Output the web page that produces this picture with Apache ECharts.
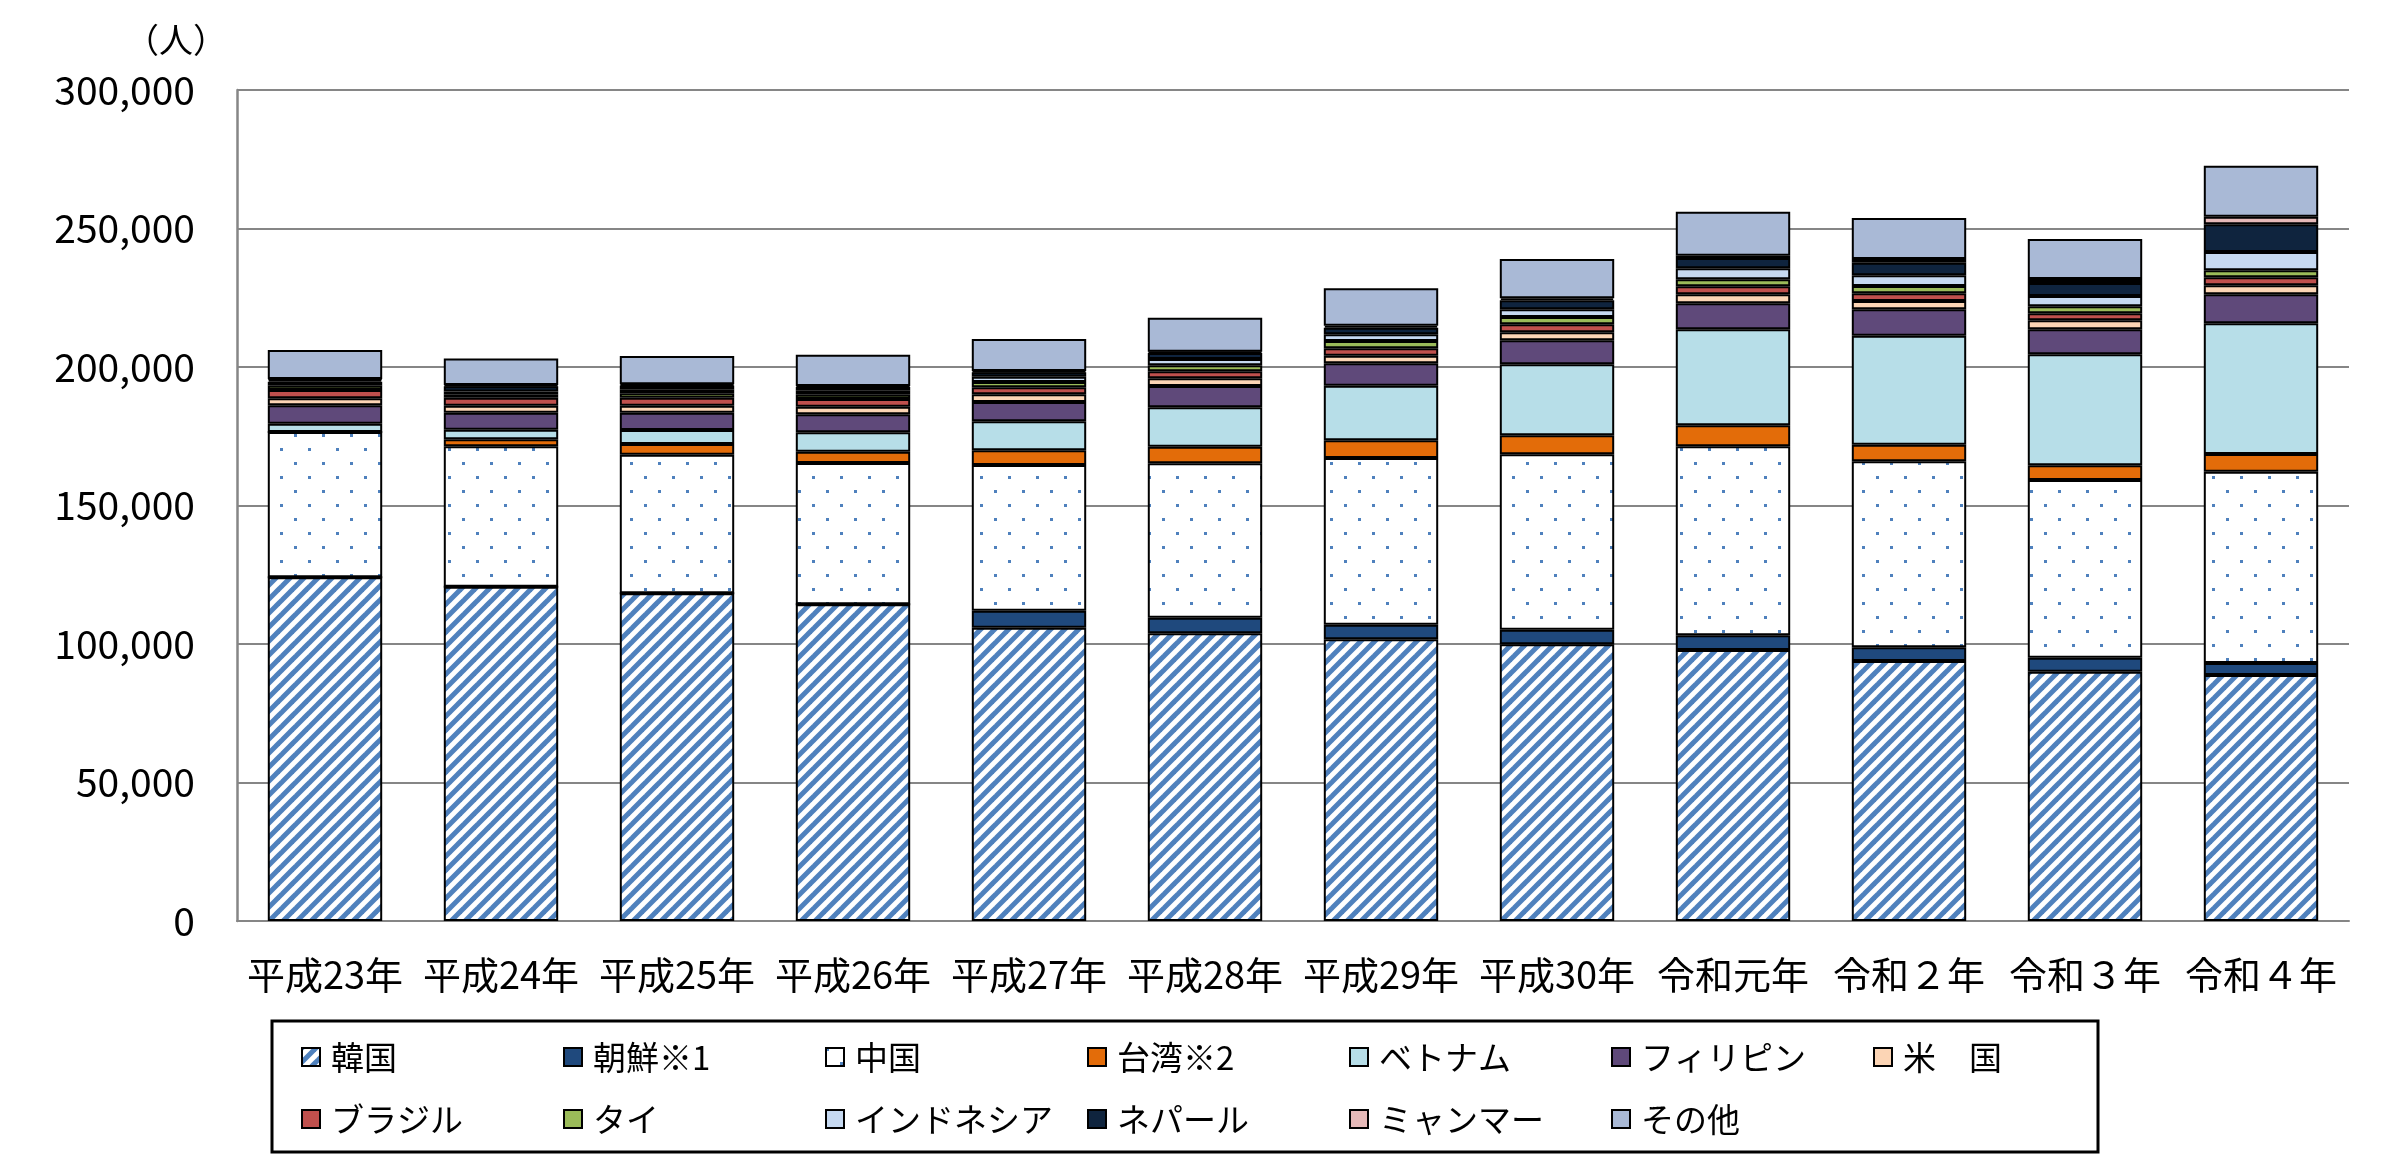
<!DOCTYPE html>
<html>
<head>
<meta charset="utf-8">
<script src="https://cdn.jsdelivr.net/npm/echarts@6/dist/echarts.min.js"></script>
<style>
html,body{margin:0;padding:0;background:#fff;}
#chart{width:2401px;height:1172px;}
</style>
</head>
<body>
<div id="chart"></div>
<script>
// ---- data (people) ----
const categories = ['平成23年','平成24年','平成25年','平成26年','平成27年','平成28年','平成29年','平成30年','令和元年','令和２年','令和３年','令和４年'];
const seriesNames = ['韓国','朝鮮※1','中国','台湾※2','ベトナム','フィリピン','米　国','ブラジル','タイ','インドネシア','ネパール','ミャンマー','その他'];
const korea      = [124080,120680,118300,114330,105880,103860,101690, 99890, 97830, 93860, 90000, 88810];
const chosen     = [     0,     0,     0,     0,  6140,  5630,  5270,  5270,  5300,  4950,  5050,  4330];
const china      = [ 52450, 50680, 50030, 51010, 52600, 55740, 60180, 63320, 68230, 67150, 64150, 69060];
const taiwan     = [     0,  2530,  3860,  4080,  5300,  5990,  6390,  6860,  7580,  5990,  5300,  6390];
const vietnam    = [  3000,  3470,  5050,  7000, 10470, 14220, 19710, 25630, 34660, 39350, 40070, 47180];
const philippines= [  6640,  6140,  6250,  6500,  6970,  7690,  8090,  8660,  9390,  9530,  9030, 10470];
const usa        = [  2530,  2530,  2530,  2740,  2780,  2780,  2740,  2890,  3250,  3000,  3250,  3250];
const brazil     = [  3000,  2900,  2890,  2780,  2530,  2530,  2670,  2890,  2890,  2780,  2530,  2890];
const thailand   = [  1550,  1230,  1590,  1550,  1910,  2170,  2640,  2640,  2530,  2640,  2530,  2530];
const indonesia  = [  1440,  1000,  1440,  1440,  1910,  2270,  2420,  2780,  3970,  3860,  3720,  6610];
const nepal      = [   700,  1900,  1400,  1340,  1590,  2170,  2380,  3250,  3720,  4550,  4690, 10000];
const myanmar    = [   300,   400,   400,   360,   470,   470,   720,   720,   830,  1340,  1440,  2740];
const others     = [ 10470,  9640, 10220, 11300, 11550, 12270, 13500, 14190, 15880, 14800, 14440, 18410];
const yTicks = { min: 0, max: 300000, interval: 50000 };
const unitLabel = '（人）';

// ---- patterns ----
function hatchPattern() {
  const s = 14, c = document.createElement('canvas');
  c.width = s; c.height = s;
  const g = c.getContext('2d');
  g.fillStyle = '#ffffff'; g.fillRect(0, 0, s, s);
  g.strokeStyle = '#4F81BD'; g.lineWidth = 5;
  for (const k of [-s, 0, s]) {
    g.beginPath(); g.moveTo(k - 2, s + 2); g.lineTo(k + s + 2, -2); g.stroke();
  }
  return c;
}
function dotPattern() {
  const s = 28, c = document.createElement('canvas');
  c.width = s; c.height = s;
  const g = c.getContext('2d');
  g.fillStyle = '#ffffff'; g.fillRect(0, 0, s, s);
  g.fillStyle = '#4F81BD';
  g.fillRect(0, 0, 3, 3);
  g.fillRect(14, 14, 3, 3);
  return c;
}
const fills = [
  { image: hatchPattern(), repeat: 'repeat' },
  '#1F497D',
  { image: dotPattern(), repeat: 'repeat' },
  '#E36C09',
  '#B7DEE8',
  '#5F497A',
  '#FCD5B5',
  '#C0504D',
  '#9BBB59',
  '#C6D9F1',
  '#0F243E',
  '#E6B9B8',
  '#A9B9D6'
];
const values = [korea, chosen, china, taiwan, vietnam, philippines, usa, brazil, thailand, indonesia, nepal, myanmar, others];

const FONT = '"Noto Sans CJK JP", "Noto Sans", sans-serif';

const chart = echarts.init(document.getElementById('chart'), null, { renderer: 'canvas' });
chart.setOption({
  backgroundColor: '#ffffff',
  animation: false,
  grid: { left: 237, right: 52, top: 90, bottom: 251, containLabel: false },
  xAxis: {
    type: 'category',
    data: categories,
    axisLine: { show: true, lineStyle: { color: '#868686', width: 2 } },
    axisTick: { show: false },
    axisLabel: { interval: 0, color: '#000', fontSize: 38, fontFamily: FONT, margin: 35 }
  },
  yAxis: {
    type: 'value',
    min: yTicks.min, max: yTicks.max, interval: yTicks.interval,
    axisLine: { show: true, lineStyle: { color: '#868686', width: 2.5 } },
    axisTick: { show: false },
    splitLine: { show: true, lineStyle: { color: '#868686', width: 2 } },
    axisLabel: {
      color: '#000', fontSize: 39, fontFamily: FONT, margin: 42,
      formatter: v => v.toLocaleString('en-US')
    }
  },
  legend: {
    data: seriesNames,
    left: 301, top: 1036, width: 1850,
    orient: 'horizontal',
    icon: 'rect',
    itemWidth: 18, itemHeight: 18,
    itemGap: 20,
    padding: 0,
    textStyle: { color: '#000', fontSize: 33, fontFamily: FONT, width: 212, overflow: 'none', lineHeight: 42, padding: [0, 0, 0, 6] }
  },
  graphic: [
    {
      type: 'rect',
      shape: { x: 272, y: 1021, width: 1826, height: 131 },
      style: { fill: 'none', stroke: '#000', lineWidth: 3 },
      silent: true
    },
    {
      type: 'text',
      x: 176, y: 40,
      style: { text: unitLabel, fontSize: 34, fontFamily: FONT, fill: '#000', align: 'center', verticalAlign: 'middle', textAlign: 'center', textVerticalAlign: 'middle' },
      silent: true
    }
  ],
  series: seriesNames.map((name, i) => ({
    name: name,
    type: 'bar',
    stack: 'total',
    barCategoryGap: '35%',
    data: values[i],
    itemStyle: { color: fills[i], borderColor: '#000', borderWidth: 2 },
    emphasis: { disabled: true }
  }))
});
</script>
</body>
</html>
